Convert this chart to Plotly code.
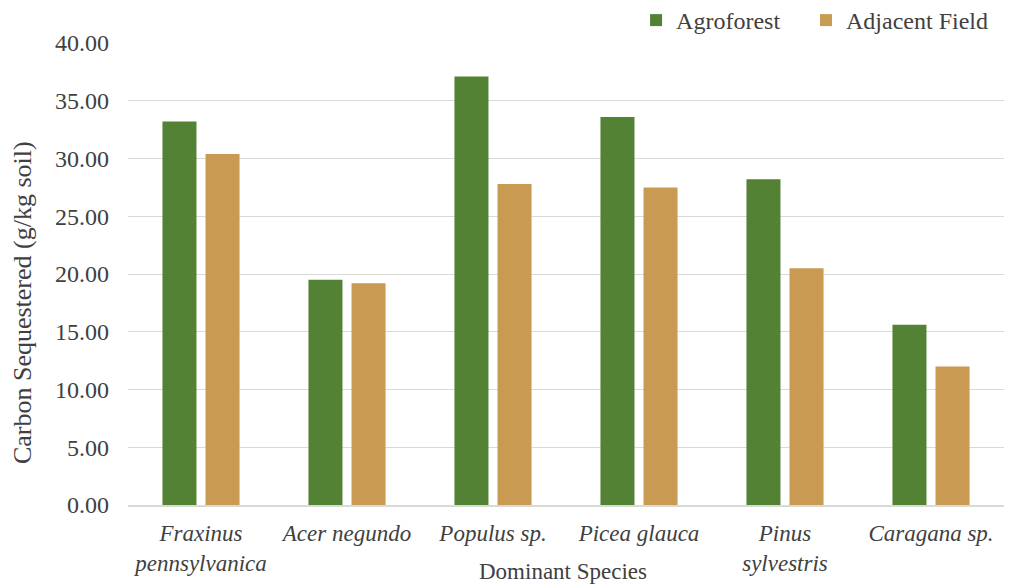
import plotly.graph_objects as go

species = ["Fraxinus<br>pennsylvanica", "Acer negundo", "Populus sp.",
           "Picea glauca", "Pinus<br>sylvestris", "Caragana sp."]
agroforest = [33.2, 19.5, 37.1, 33.6, 28.2, 15.6]
adjacent_field = [30.4, 19.2, 27.8, 27.5, 20.5, 12.0]
y_ticks = [0, 5, 10, 15, 20, 25, 30, 35, 40]

FONT = "Liberation Serif"
TEXT = "#404040"

fig = go.Figure()
fig.add_trace(go.Bar(name="Agroforest", x=species, y=agroforest,
                     marker=dict(color="#548235", line=dict(width=0)),
                     legend="legend"))
fig.add_trace(go.Bar(name="Adjacent Field", x=species, y=adjacent_field,
                     marker=dict(color="#C99A52", line=dict(width=0)),
                     legend="legend2"))

legend_style = dict(orientation="h", y=1.0, yanchor="bottom", xanchor="left",
                    font=dict(family=FONT, size=24, color=TEXT),
                    itemwidth=30, bgcolor="rgba(0,0,0,0)")

fig.update_layout(
    width=1013, height=584,
    margin=dict(l=128, r=9, t=43, b=79, autoexpand=False),
    paper_bgcolor="white", plot_bgcolor="white",
    font=dict(family=FONT, size=23, color=TEXT),
    barmode="group", bargap=0.41, bargroupgap=0.21,
    showlegend=True,
    legend=dict(x=0.58, **legend_style),
    legend2=dict(x=0.774, **legend_style),
    xaxis=dict(showgrid=False, showline=True, linecolor="#d9d9d9", linewidth=1.5,
               ticks="", tickfont=dict(family=FONT, size=23, color=TEXT, style="italic"),
               ticklabelstandoff=7, automargin=False),
    yaxis=dict(range=[0, 40], tickvals=y_ticks, tickformat=".2f",
               showgrid=True, gridcolor="#d9d9d9", gridwidth=1.2,
               zeroline=False, showline=False, ticks="",
               tickfont=dict(family=FONT, size=24, color=TEXT),
               ticklabelstandoff=18, automargin=False),
    annotations=[
        dict(text="Carbon Sequestered (g/kg soil)", textangle=-90,
             xref="paper", yref="paper", x=-0.121, y=0.437,
             xanchor="center", yanchor="middle", showarrow=False,
             font=dict(family=FONT, size=26, color=TEXT)),
        dict(text="Dominant Species", xref="paper", yref="paper",
             x=0.497, y=-0.145, xanchor="center", yanchor="middle",
             showarrow=False, font=dict(family=FONT, size=23, color=TEXT)),
    ],
)

fig.write_html("out.html")
